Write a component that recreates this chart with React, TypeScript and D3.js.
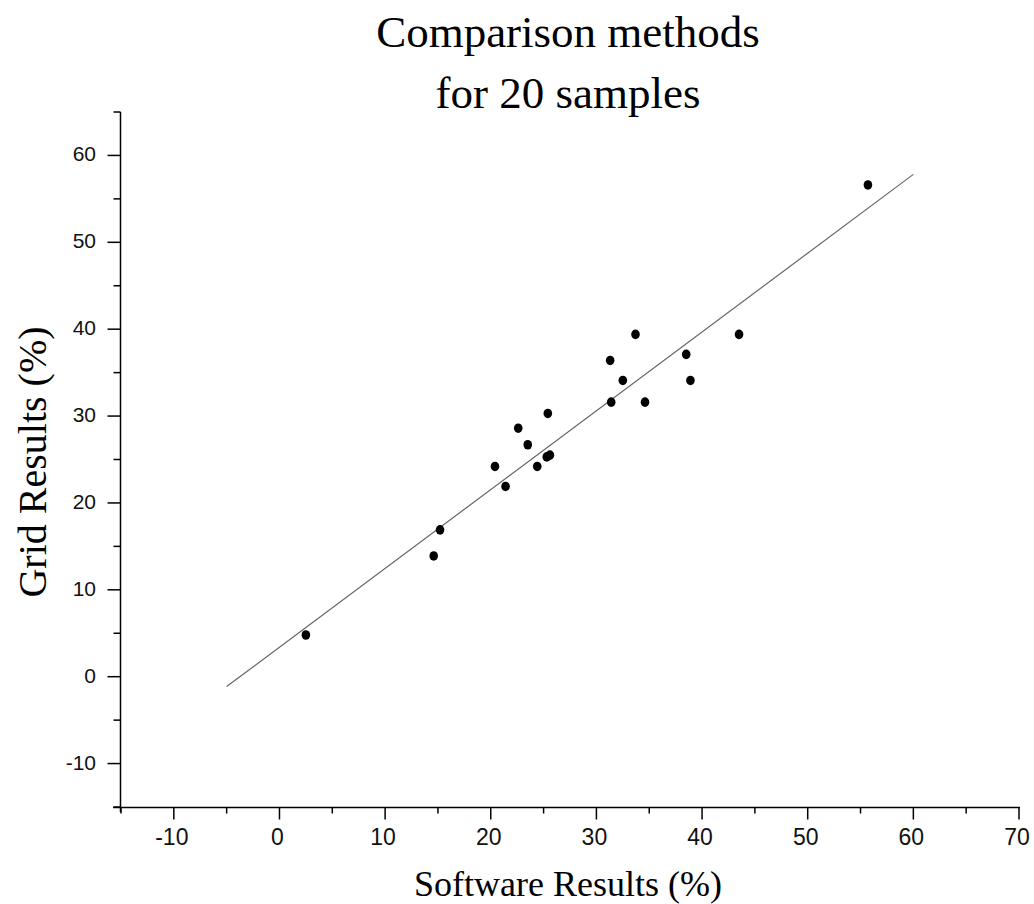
import React from "react";
import * as d3 from "d3";

const softwareResults = [55.7, 33.7, 43.5, 31.3, 38.5, 32.5, 38.9, 31.4, 34.6, 25.4, 22.6, 23.5, 25.6, 25.3, 20.4, 24.4, 21.4, 15.2, 14.6, 2.5];
const gridResults = [56.6, 39.4, 39.4, 36.4, 37.1, 34.1, 34.1, 31.6, 31.6, 30.3, 28.6, 26.7, 25.5, 25.3, 24.2, 24.2, 21.9, 16.9, 13.9, 4.8];
const fitIntercept = 3.4;
const fitSlope = 0.907;
const fitRange = [-5, 60];
const xTicks = [-10, 0, 10, 20, 30, 40, 50, 60, 70];
const yTicks = [-10, 0, 10, 20, 30, 40, 50, 60];
const xMinor = [-15, -5, 5, 15, 25, 35, 45, 55, 65];
const yMinor = [-15, -5, 5, 15, 25, 35, 45, 55, 65];
const titleLines = ["Comparison methods", "for 20 samples"];
const xLabel = "Software Results (%)";
const yLabel = "Grid Results (%)";

const W = 1034;
const H = 904;

export default function App() {
  const x = d3.scaleLinear().domain([-15, 70]).range([121, 1019]);
  const y = d3.scaleLinear().domain([-15, 65]).range([807, 112]);
  const axisX = 120.5;
  const axisY = 807.5;
  const points = softwareResults.map((s, i) => ({ s, g: gridResults[i] }));
  const line = d3
    .line<number>()
    .x((d) => x(d))
    .y((d) => y(fitIntercept + fitSlope * d));
  const serif = "'Liberation Serif', 'Times New Roman', serif";
  const sans = "'Liberation Sans', Arial, sans-serif";
  return (
    <svg
      width={W}
      height={H}
      style={{ position: "absolute", left: 0, top: 0, background: "#fff" }}
    >
      <rect x={0} y={0} width={W} height={H} fill="#fff" />
      {titleLines.map((t, i) => (
        <text
          key={t}
          x={568}
          y={47 + i * 61}
          textAnchor="middle"
          fontFamily={serif}
          fontSize={45}
          fill="#000"
        >
          {t}
        </text>
      ))}
      {/* axes */}
      <line x1={axisX} x2={axisX} y1={112} y2={812} stroke="#000" strokeWidth={1.5} />
      <line x1={113} x2={1020} y1={axisY} y2={axisY} stroke="#000" strokeWidth={1.5} />
      {xTicks.map((t) => (
        <g key={"xt" + t}>
          <line x1={x(t)} x2={x(t)} y1={axisY} y2={axisY + 12} stroke="#000" strokeWidth={1.5} />
          <text x={x(t) - 2} y={845} textAnchor="middle" fontFamily={sans} fontSize={23} fill="#111">
            {t}
          </text>
        </g>
      ))}
      {xMinor.map((t) => (
        <line key={"xm" + t} x1={x(t)} x2={x(t)} y1={axisY} y2={axisY + 6} stroke="#000" strokeWidth={1.5} />
      ))}
      {yTicks.map((t) => (
        <g key={"yt" + t}>
          <line x1={axisX - 13} x2={axisX} y1={y(t)} y2={y(t)} stroke="#000" strokeWidth={1.5} />
          <text x={96} y={y(t) + 6} textAnchor="end" fontFamily={sans} fontSize={21} fill="#111">
            {t}
          </text>
        </g>
      ))}
      {yMinor.map((t) => (
        <line key={"ym" + t} x1={axisX - 7} x2={axisX} y1={y(t)} y2={y(t)} stroke="#000" strokeWidth={1.5} />
      ))}
      {/* fit line */}
      <path d={line(fitRange) || ""} fill="none" stroke="#666" strokeWidth={1.2} />
      {/* points */}
      {points.map((p, i) => (
        <ellipse key={i} cx={x(p.s)} cy={y(p.g)} rx={4.3} ry={4.8} fill="#000" />
      ))}
      <text x={568} y={896} textAnchor="middle" fontFamily={serif} fontSize={36} fill="#000">
        {xLabel}
      </text>
      <text
        transform={`translate(46, 462) rotate(-90)`}
        textAnchor="middle"
        fontFamily={serif}
        fontSize={40}
        fill="#000"
      >
        {yLabel}
      </text>
    </svg>
  );
}
